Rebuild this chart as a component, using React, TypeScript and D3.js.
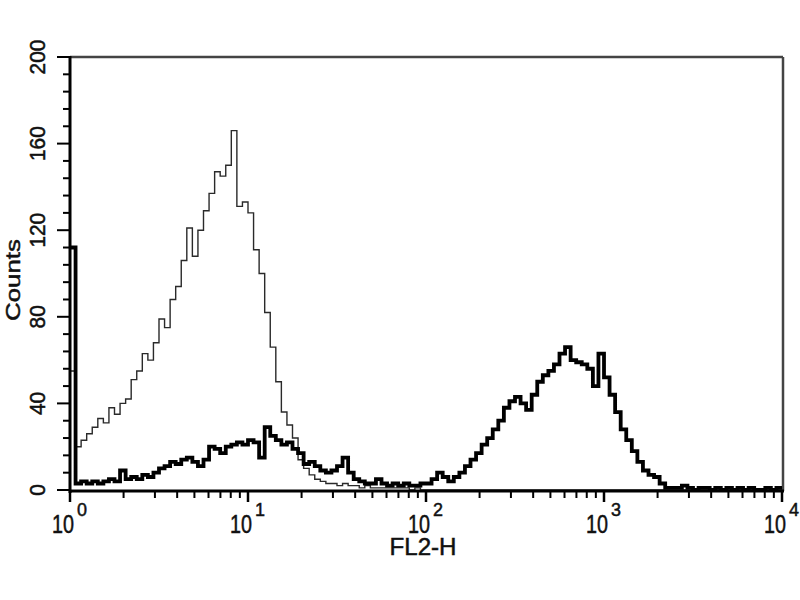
import React from "react";
import * as d3 from "d3";

// Histogram channels: 32 bins per decade, bin i starts at 10^(i/32)
const binsPerDecade = 32;

const thinCounts = [
  55, 20, 23, 26, 29, 33, 31, 38, 35, 40, 42, 51, 55, 63, 60, 68,
  79, 75, 88, 94, 106, 121, 108, 120, 129, 137, 147, 145, 150, 166, 131, 133,
  128, 111, 100, 82, 66, 50, 36, 30, 24, 14, 10, 7, 5, 4, 3, 3,
  2, 3, 2, 2, 1, 2, 1, 1, 1, 1, 1, 1, 1, 0, 1, 0,
  0, 0, 0, 0, 0, 0, 0, 0, 0, 0, 0, 0, 0, 0, 0, 0,
  0, 0, 0, 0, 0, 0, 0, 0, 0, 0, 0, 0, 0, 0, 0, 0,
  0, 0, 0, 0, 0, 0, 0, 0, 0, 0, 0, 0, 0, 0, 0, 0,
  0, 0, 0, 0, 0, 0, 0, 0, 0, 0, 0, 0, 0, 0, 0, 0,
];

const thickCounts = [
  112, 3, 4, 3, 4, 3, 4, 5, 4, 9, 5, 6, 5, 7, 6, 8,
  10, 11, 13, 12, 14, 15, 13, 11, 14, 20, 19, 17, 20, 21, 22, 21,
  23, 22, 15, 29, 25, 23, 21, 22, 19, 17, 12, 13, 11, 9, 8, 9,
  11, 15, 8, 5, 4, 3, 3, 5, 3, 2, 3, 2, 3, 2, 2, 3,
  3, 5, 8, 6, 4, 6, 8, 11, 14, 17, 21, 24, 28, 32, 38, 41,
  43, 40, 37, 44, 50, 53, 55, 58, 63, 66, 60, 59, 58, 56, 48, 63,
  52, 44, 36, 28, 23, 18, 13, 9, 7, 6, 3, 1, 1, 1, 2, 1,
  0, 1, 1, 0, 1, 0, 1, 0, 1, 0, 1, 0, 0, 1, 0, 1,
];

const yTicks = [0, 40, 80, 120, 160, 200];
const yMinorStep = 8;
const xDecades = [0, 1, 2, 3, 4];
const xLabel = "FL2-H";
const yLabel = "Counts";

const W = 800;
const H = 600;
const left = 70;
const right = 782;
const top = 57;
const bottom = 490;
const axisY = 491;

export default function App() {
  const x = d3.scaleLog().domain([1, 1e4]).range([left, right]);
  const y = d3.scaleLinear().domain([0, 200]).range([bottom, top]);

  const toPts = (arr: number[]) => {
    const pts: [number, number][] = arr.map((v, i) => [
      Math.pow(10, i / binsPerDecade),
      v,
    ]);
    pts.push([Math.pow(10, arr.length / binsPerDecade), arr[arr.length - 1]]);
    return pts;
  };

  const line = d3
    .line<[number, number]>()
    .x((d) => x(d[0]))
    .y((d) => y(d[1]))
    .curve(d3.curveStepAfter);

  const thinPath = line(toPts(thinCounts)) || "";
  const thickPath = line(toPts(thickCounts)) || "";

  const yMinor = d3.range(0, 201, yMinorStep);
  const xMinor: number[] = [];
  for (let d = 0; d < 4; d++) {
    for (let k = 2; k <= 9; k++) xMinor.push(k * Math.pow(10, d));
  }

  const font = "'Liberation Sans', Arial, Helvetica, sans-serif";
  const txt = { fill: "#111", stroke: "#111", strokeWidth: 0.5 };

  return (
    <svg
      width={W}
      height={H}
      style={{ position: "absolute", left: 0, top: 0, background: "#fff" }}
    >
      <rect x={0} y={0} width={W} height={H} fill="#fff" />
      {/* frame top & right */}
      <line x1={left} y1={top} x2={right + 1} y2={top} stroke="#444" strokeWidth={2.5} />
      <line x1={right + 1} y1={top} x2={right + 1} y2={axisY} stroke="#444" strokeWidth={2.5} />

      {/* histograms */}
      <path d={thinPath} fill="none" stroke="#2a2a2a" strokeWidth={1.4} />
      <path d={thickPath} fill="none" stroke="#000" strokeWidth={3.8} strokeLinejoin="miter" />

      {/* y axis */}
      <line x1={left} y1={top - 1} x2={left} y2={axisY + 2} stroke="#000" strokeWidth={3} />
      {yMinor.map((v) => {
        const major = v % 40 === 0;
        return (
          <line
            key={"ym" + v}
            x1={left}
            x2={left - (major ? 13 : 7)}
            y1={y(v)}
            y2={y(v)}
            stroke="#000"
            strokeWidth={2}
          />
        );
      })}
      {yTicks.map((v) => {
        const s = String(v);
        return (
          <text
            key={"yl" + v}
            transform={`translate(45,${y(v)}) rotate(-90)`}
            textAnchor="middle"
            fontFamily={font}
            fontSize={22}
            textLength={s.length * 11.6}
            lengthAdjust="spacingAndGlyphs"
            {...txt}
          >
            {s}
          </text>
        );
      })}
      <text
        transform={`translate(20,280) rotate(-90)`}
        textAnchor="middle"
        fontFamily={font}
        fontSize={21}
        textLength={82}
        lengthAdjust="spacingAndGlyphs"
        {...txt}
      >
        {yLabel}
      </text>

      {/* x axis */}
      <line x1={left - 1} y1={axisY} x2={right + 2} y2={axisY} stroke="#000" strokeWidth={3} />
      {xMinor.map((v) => (
        <line
          key={"xm" + v}
          x1={x(v)}
          x2={x(v)}
          y1={axisY}
          y2={axisY + 7}
          stroke="#000"
          strokeWidth={2}
        />
      ))}
      {xDecades.map((d) => (
        <line
          key={"xM" + d}
          x1={x(Math.pow(10, d))}
          x2={x(Math.pow(10, d))}
          y1={axisY}
          y2={axisY + 11}
          stroke="#000"
          strokeWidth={2.5}
        />
      ))}
      {xDecades.map((d) => {
        const px = x(Math.pow(10, d));
        return (
          <g key={"xl" + d} fontFamily={font}>
            <text
              x={px + 4}
              y={533}
              textAnchor="end"
              fontSize={26}
              textLength={22}
              lengthAdjust="spacingAndGlyphs"
              {...txt}
            >
              10
            </text>
            <text
              x={px + 7}
              y={516}
              textAnchor="start"
              fontSize={19}
              textLength={10}
              lengthAdjust="spacingAndGlyphs"
              {...txt}
            >
              {String(d)}
            </text>
          </g>
        );
      })}
      <text
        x={423}
        y={555}
        textAnchor="middle"
        fontFamily={font}
        fontSize={24}
        textLength={67}
        lengthAdjust="spacingAndGlyphs"
        {...txt}
      >
        {xLabel}
      </text>
    </svg>
  );
}
